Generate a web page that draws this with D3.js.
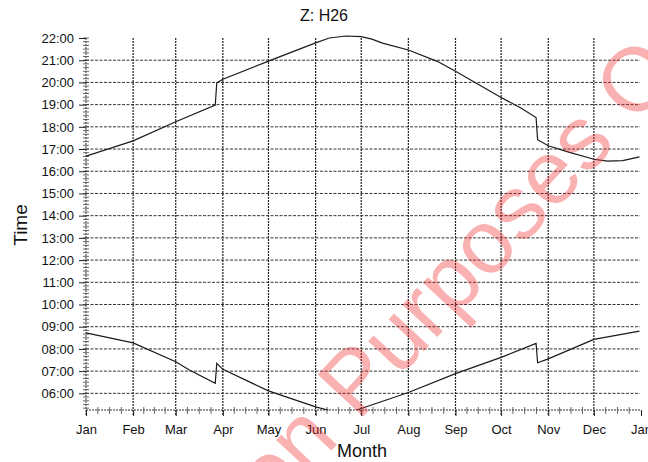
<!DOCTYPE html>
<html>
<head>
<meta charset="utf-8">
<script src="https://cdn.jsdelivr.net/npm/d3@7"></script>
<style>
  html, body { margin: 0; padding: 0; background: #fff; }
  svg { display: block; }
  text { font-family: Arial, "Liberation Sans", Helvetica, sans-serif; }
</style>
</head>
<body>
<svg id="chart" width="648" height="462"></svg>
<script>
// ---- data ----
const title = "Z: H26";
const xLabel = "Month";
const yLabel = "Time";
const monthLabels = ["Jan","Feb","Mar","Apr","May","Jun","Jul","Aug","Sep","Oct","Nov","Dec","Jan"];
const hourTicks = [6,7,8,9,10,11,12,13,14,15,16,17,18,19,20,21,22];
const hourLabels = ["06:00","07:00","08:00","09:00","10:00","11:00","12:00","13:00","14:00","15:00","16:00","17:00","18:00","19:00","20:00","21:00","22:00"];

// sunset (hours, local clock time)
const sunsetDates  = ["2009-01-01","2009-02-01","2009-03-01","2009-03-27","2009-03-28","2009-04-01","2009-05-01","2009-06-01","2009-06-10","2009-06-21","2009-07-01","2009-07-08","2009-07-15","2009-08-01","2009-08-20","2009-09-01","2009-10-01","2009-10-14","2009-10-24","2009-10-25","2009-11-01","2009-11-15","2009-12-01","2009-12-10","2009-12-20","2009-12-31"];
const sunsetValues = [16.68,17.37,18.23,18.98,19.98,20.14,20.96,21.78,22.00,22.09,22.06,21.95,21.77,21.46,20.95,20.50,19.32,18.85,18.42,17.42,17.15,16.85,16.54,16.46,16.48,16.65];

// sunrise (hours, local clock time)
const sunriseDates  = ["2009-01-01","2009-02-01","2009-03-01","2009-03-10","2009-03-27","2009-03-28","2009-04-01","2009-05-01","2009-06-01","2009-06-20","2009-07-01","2009-08-01","2009-09-01","2009-10-01","2009-10-24","2009-10-25","2009-11-01","2009-12-01","2009-12-31"];
const sunriseValues = [8.72,8.27,7.42,7.05,6.45,7.35,7.08,6.11,5.39,5.05,5.32,6.04,6.89,7.62,8.25,7.38,7.55,8.43,8.80];

const watermarkBefore = "For Inspection";
const watermarkAfter = "Purposes Only";

// ---- layout ----
const svg = d3.select("#chart");
const pL = 86, pR = 641, pT = 38, pB = 410;
const parse = d3.timeParse("%Y-%m-%d");
const x = d3.scaleTime().domain([new Date(2009,0,1), new Date(2010,0,1)]).range([pL, pR]);
const y = d3.scaleLinear().domain([5.25, 22]).range([pB, pT]);

const monthDates = d3.timeMonth.range(new Date(2009,0,1), new Date(2010,0,2));

// clip
svg.append("defs").append("clipPath").attr("id","plotclip")
  .append("rect").attr("x", pL).attr("y", 20).attr("width", pR - pL + 2).attr("height", pB - 20);

// gridlines
const grid = svg.append("g");
grid.selectAll("line.h").data(hourTicks.filter(h => h < 22)).join("line")
  .attr("x1", pL).attr("x2", pR - 1)
  .attr("y1", d => y(d)).attr("y2", d => y(d))
  .attr("stroke", "#333").attr("stroke-width", 1).attr("stroke-dasharray", "3,1.5");
grid.selectAll("line.v").data(monthDates.slice(1, 12)).join("line")
  .attr("x1", d => x(d)).attr("x2", d => x(d))
  .attr("y1", pT).attr("y2", pB + 5)
  .attr("stroke", "#222").attr("stroke-width", 1.2).attr("stroke-dasharray", "2,1");

// axes lines
svg.append("line").attr("x1", pL).attr("x2", pL).attr("y1", pT).attr("y2", pB + 5)
  .attr("stroke", "#333").attr("stroke-width", 1).attr("stroke-dasharray", "2,1");
svg.append("line").attr("x1", pL).attr("x2", pR).attr("y1", pB).attr("y2", pB)
  .attr("stroke", "#333").attr("stroke-width", 1).attr("stroke-dasharray", "2,1");

// y minor ticks (every 10 minutes)
const minorY = d3.range(Math.ceil(5.25 * 6), 22 * 6 + 1).map(v => v / 6);
svg.append("g").selectAll("line").data(minorY).join("line")
  .attr("x1", pL - 3).attr("x2", pL + 3)
  .attr("y1", d => y(d)).attr("y2", d => y(d))
  .attr("stroke", "#444").attr("stroke-width", 0.8);
// y major ticks + labels
const yAxis = d3.axisLeft(y).tickValues(hourTicks).tickSize(7).tickPadding(5)
  .tickFormat((d, i) => hourLabels[i]);
const gy = svg.append("g").attr("transform", `translate(${pL},0)`).call(yAxis);
gy.select(".domain").remove();
gy.selectAll(".tick line").attr("stroke", "#222");
gy.selectAll(".tick text").attr("font-size", 13).attr("fill", "#111")
  .attr("font-family", "Arial, 'Liberation Sans', sans-serif");

// x minor ticks (quarter months)
const minorX = [];
monthDates.slice(0, 12).forEach((d, i) => {
  const a = x(d), b = x(monthDates[i + 1]);
  for (let k = 1; k < 4; k++) minorX.push(a + (b - a) * k / 4);
});
svg.append("g").selectAll("line").data(minorX).join("line")
  .attr("x1", d => d).attr("x2", d => d)
  .attr("y1", pB - 3).attr("y2", pB + 4)
  .attr("stroke", "#444").attr("stroke-width", 0.8);
// x axis labels
const xAxis = d3.axisBottom(x).tickValues(monthDates).tickSize(6).tickPadding(9)
  .tickFormat((d, i) => monthLabels[i]);
const gx = svg.append("g").attr("transform", `translate(0,${pB})`).call(xAxis);
gx.select(".domain").remove();
gx.selectAll(".tick line").attr("stroke", "#222");
gx.selectAll(".tick text").attr("font-size", 13).attr("fill", "#111")
  .attr("font-family", "Arial, 'Liberation Sans', sans-serif");

// curves
const line = d3.line().x(d => x(d[0])).y(d => y(d[1]));
const sunset = sunsetDates.map((d, i) => [parse(d), sunsetValues[i]]);
const sunrise = sunriseDates.map((d, i) => [parse(d), sunriseValues[i]]);
const curves = svg.append("g").attr("clip-path", "url(#plotclip)");
[sunset, sunrise].forEach(s => {
  curves.append("path").datum(s).attr("d", line)
    .attr("fill", "none").attr("stroke", "#1a1a1a").attr("stroke-width", 1.2);
});

// titles
svg.append("text").attr("x", 324).attr("y", 21).attr("text-anchor", "middle")
  .attr("font-size", 16).attr("fill", "#111").text(title);
svg.append("text").attr("x", 362).attr("y", 457).attr("text-anchor", "middle")
  .attr("font-size", 18).attr("fill", "#111").text(xLabel);
svg.append("text").attr("transform", "translate(27,225) rotate(-90)").attr("text-anchor", "middle")
  .attr("font-size", 19).attr("fill", "#111").text(yLabel);

// watermark
const wm = svg.append("g").attr("transform", "translate(358,422) rotate(-47)")
  .attr("fill", "rgba(240,40,40,0.36)").attr("font-size", 90);
wm.append("text").attr("x", -25).attr("text-anchor", "end").text(watermarkBefore);
wm.append("text").attr("x", 0).attr("text-anchor", "start").text(watermarkAfter);
</script>
</body>
</html>
